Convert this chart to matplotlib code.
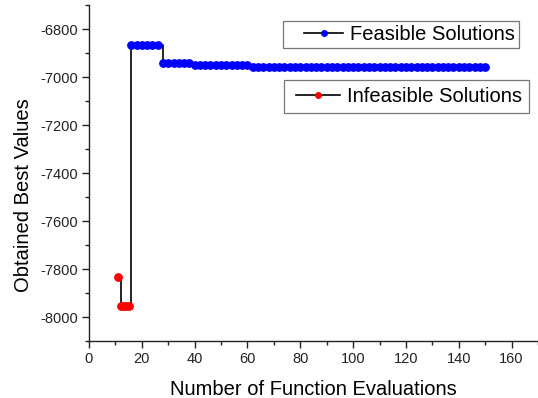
import matplotlib
matplotlib.use("Agg")
import matplotlib.pyplot as plt
from matplotlib.lines import Line2D
from matplotlib.legend_handler import HandlerLine2D
from matplotlib.ticker import MultipleLocator

plt.rcParams['font.family'] = ['Liberation Sans', 'DejaVu Sans']
plt.rcParams['axes.unicode_minus'] = False

# evaluations where the best solution was still infeasible
infeasible_evals = [11, 12, 13, 14, 15]
infeasible_best = [-7832, -7955, -7955, -7955, -7955]

# evaluations after the first feasible solution was found
feasible_evals = [16, 18, 20, 22, 24, 26,
                  28, 30, 32, 34, 36, 38,
                  40, 42, 44, 46, 48, 50, 52, 54, 56, 58, 60,
                  62, 64, 66, 68, 70, 72, 74, 76, 78, 80, 82, 84, 86, 88, 90,
                  92, 94, 96, 98, 100, 102, 104, 106, 108, 110, 112, 114, 116,
                  118, 120, 122, 124, 126, 128, 130, 132, 134, 136, 138, 140,
                  142, 144, 146, 148, 150]
feasible_best = [-6868, -6868, -6868, -6868, -6868, -6868,
                 -6942, -6942, -6942, -6942, -6942, -6942,
                 -6952, -6952, -6952, -6952, -6952, -6952, -6952, -6952,
                 -6952, -6952, -6952,
                 -6958, -6958, -6958, -6958, -6958, -6958, -6958, -6958,
                 -6958, -6958, -6958, -6958, -6958, -6958, -6958, -6958,
                 -6958, -6958, -6958, -6958, -6958, -6958, -6958, -6958,
                 -6958, -6958, -6958, -6958, -6958, -6958, -6958, -6958,
                 -6958, -6958, -6958, -6958, -6958, -6958, -6958, -6958,
                 -6958, -6958, -6958, -6958, -6958]


class IndentedLine(HandlerLine2D):
    """Legend line handle with some blank space before it."""

    def __init__(self, indent, **kw):
        super().__init__(**kw)
        self.indent = indent

    def create_artists(self, legend, orig_handle, xdescent, ydescent,
                       width, height, fontsize, trans):
        return super().create_artists(legend, orig_handle,
                                      xdescent - self.indent, ydescent,
                                      width - self.indent, height,
                                      fontsize, trans)


fig = plt.figure(figsize=(5.38, 3.98), dpi=100)
ax = fig.add_axes([0.1654, 0.1432, 0.8346, 0.8442])

# whole history as one step line, markers coloured by feasibility
all_evals = infeasible_evals + feasible_evals
all_best = infeasible_best + feasible_best
ax.plot(all_evals, all_best, color='black', lw=1.2, drawstyle='steps-post', zorder=2)
ax.plot(feasible_evals, feasible_best, ls='none', marker='o', ms=5.3,
        color='blue', mec='blue', zorder=3)
ax.plot(infeasible_evals, infeasible_best, ls='none', marker='o', ms=5.3,
        color='red', mec='red', zorder=3)

ax.set_xlim(0, 170)
ax.set_ylim(-8100, -6700)
ax.xaxis.set_minor_locator(MultipleLocator(10))
ax.yaxis.set_minor_locator(MultipleLocator(100))
ax.set_xticks([0, 20, 40, 60, 80, 100, 120, 140, 160])
ax.set_yticks([-8000, -7800, -7600, -7400, -7200, -7000, -6800])

for side in ['top', 'right']:
    ax.spines[side].set_visible(False)
for side in ['left', 'bottom']:
    ax.spines[side].set_linewidth(1.0)
    ax.spines[side].set_color('#222222')

ax.tick_params(which='major', direction='out', length=5, width=1.0,
               labelsize=10.5, colors='#222222', pad=3)
ax.tick_params(which='minor', direction='out', length=3, width=1.0, colors='#222222')

ax.set_xlabel('Number of Function Evaluations', fontsize=14.5, labelpad=10)
ax.set_ylabel('Obtained Best Values', fontsize=14.5)
ax.yaxis.set_label_coords(-0.125, 0.435)

feas_handle = Line2D([], [], color='black', lw=1.2, marker='o', ms=4,
                     mfc='blue', mec='blue')
infeas_handle = Line2D([], [], color='black', lw=1.2, marker='o', ms=4,
                       mfc='red', mec='red')

leg1 = ax.legend([feas_handle], ['Feasible Solutions'], loc='upper left',
                 bbox_to_anchor=(0.432, 0.952), fontsize=14.5, frameon=True,
                 fancybox=False, edgecolor='#777777', framealpha=1,
                 handlelength=2.8, handletextpad=0.35, borderpad=0.2,
                 borderaxespad=0,
                 handler_map={feas_handle: IndentedLine(12)})
leg1.get_frame().set_linewidth(0.9)
ax.add_artist(leg1)
leg2 = ax.legend([infeas_handle], ['Infeasible Solutions'], loc='upper left',
                 bbox_to_anchor=(0.434, 0.777), fontsize=14.5, frameon=True,
                 fancybox=False, edgecolor='#777777', framealpha=1,
                 handlelength=2.45, handletextpad=0.35, borderpad=0.35,
                 borderaxespad=0,
                 handler_map={infeas_handle: IndentedLine(4)})
leg2.get_frame().set_linewidth(0.9)

fig.savefig('out.png', dpi=100)
